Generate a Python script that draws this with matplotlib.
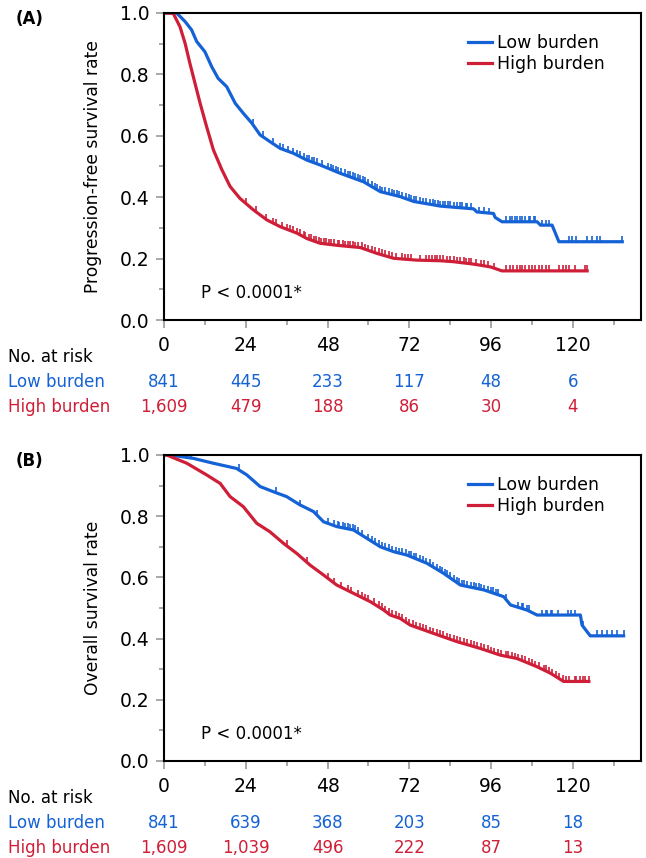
import numpy as np
import matplotlib.pyplot as plt
from matplotlib.ticker import MultipleLocator, FormatStrFormatter

# --- donnees ---
# PFS, points suivis le long des courbes (mois, taux)
pfs_low_t = [0, 3.7, 6.2, 8.1, 9.6, 12.0, 14.0, 15.9, 18.4, 20.9, 23.3, 25.8, 28.2, 31.1, 34.1,
             38.0, 41.9, 45.8, 51.7, 58.6, 63.5, 69.3, 73.3, 79.1, 81.1, 90.9, 91.8, 96.7, 97.2,
             99.2, 109.5, 110.5, 113.9, 114.9, 115.9, 134.5]
pfs_low_s = [1.0, 1.0, 0.972, 0.945, 0.907, 0.874, 0.825, 0.787, 0.760, 0.706, 0.673, 0.641, 0.603,
             0.581, 0.559, 0.543, 0.521, 0.505, 0.478, 0.450, 0.418, 0.402, 0.386, 0.375, 0.371,
             0.362, 0.352, 0.347, 0.334, 0.320, 0.320, 0.309, 0.309, 0.282, 0.255, 0.255]
pfs_high_t = [0, 2.7, 4.7, 6.2, 7.6, 9.1, 10.6, 12.5, 14.5, 17.0, 19.4, 22.3, 26.2, 30.2, 34.1,
              39.0, 42.0, 45.8, 51.0, 57.6, 62.5, 67.4, 74.2, 81.1, 84.9, 90.9, 95.8, 99.2, 124.2]
pfs_high_s = [1.0, 0.999, 0.955, 0.901, 0.836, 0.771, 0.706, 0.630, 0.554, 0.489, 0.435, 0.396,
              0.359, 0.326, 0.304, 0.283, 0.265, 0.250, 0.243, 0.236, 0.217, 0.201, 0.195, 0.193,
              0.190, 0.182, 0.173, 0.160, 0.160]
pfs_low_cens = [26, 29, 32, 34, 35, 36.5, 38, 39, 40, 41, 42, 42.5, 43.5, 44, 45, 46.5, 48, 49,
                49.5, 50.5, 51, 52, 53, 54, 54.5, 55.5, 56, 57, 57.5, 58.5, 59, 60, 61, 62, 62.5,
                63.5, 64, 65, 66, 67, 67.5, 68.5, 69, 70, 71, 72, 72.5, 73.5, 74, 75, 76, 77, 78,
                79, 79.5, 80.5, 81, 82, 82.5, 83.5, 84, 85, 86, 87, 87.5, 88.5, 89, 90, 92.5, 94,
                95.5, 100.5, 101.5, 102, 103, 103.5, 104.5, 105, 106, 107, 107.5, 108.5, 109,
                111, 112, 113, 118.8, 119.8, 120.8, 124.2, 125.7, 127.1, 128.1, 134.5]
pfs_high_cens = [24, 27, 30, 32, 33, 34.5, 36, 37, 38, 39, 40, 41, 41.5, 42.5, 43, 44, 44.5, 45.5,
                 46, 47, 47.5, 48.5, 49, 50, 51, 51.5, 52.5, 53, 54, 54.5, 55.5, 56, 57, 58, 59,
                 60, 61, 62, 63, 64, 65, 66, 67, 68, 70, 70.8, 71.6, 72.4, 75, 77, 77.8, 78.6,
                 79.4, 80.2, 81, 82, 83, 84, 85, 86, 87, 88, 88.5, 89.5, 90, 91.5, 93, 94, 95, 97,
                 100.5, 101.5, 102.5, 103.5, 104.5, 105, 106, 107, 108, 109, 110, 111, 112, 113,
                 116, 117, 118, 119, 120.5, 123.5, 124.2]

# OS
os_low_t = [0, 1.8, 8.6, 14.5, 21.3, 24.3, 28.2, 32.1, 36.0, 39.9, 43.9, 46.8, 50.7, 55.6, 59.5,
            63.5, 67.4, 71.3, 77.2, 82.1, 87.0, 93.9, 99.7, 101.7, 106.6, 109.5, 122.2, 122.7,
            125.1, 134.9]
os_low_s = [1.0, 1.0, 0.989, 0.973, 0.956, 0.935, 0.897, 0.880, 0.864, 0.837, 0.815, 0.782, 0.766,
            0.755, 0.728, 0.700, 0.684, 0.673, 0.646, 0.613, 0.575, 0.559, 0.537, 0.510, 0.493,
            0.477, 0.477, 0.444, 0.409, 0.409]
os_high_t = [0, 0.8, 6.7, 12.5, 16.5, 19.4, 23.3, 27.2, 31.1, 35.1, 39.0, 42.9, 46.8, 50.7, 55.6,
             60.5, 64.4, 66.4, 69.3, 72.3, 79.1, 86.0, 92.8, 98.7, 103.6, 109.5, 113.4, 117.3, 124.7]
os_high_s = [1.0, 1.0, 0.973, 0.935, 0.907, 0.864, 0.831, 0.777, 0.749, 0.711, 0.678, 0.640, 0.608,
             0.575, 0.548, 0.521, 0.494, 0.477, 0.466, 0.444, 0.417, 0.390, 0.368, 0.346, 0.335,
             0.308, 0.287, 0.260, 0.260]
os_low_cens = [3, 5, 6.5, 8, 22, 33, 40, 45, 48, 50, 51, 51.5, 52.5, 53, 54, 54.5, 55.5, 56, 57,
               58, 60, 61, 62, 63, 64, 65, 66, 67, 68, 69, 70, 71, 72, 72.5, 73.5, 74, 75, 76, 77,
               78, 79, 80, 81, 81.5, 82.5, 83, 84, 85, 86, 86.5, 87.5, 88, 89, 90, 91, 91.5,
               92.5, 93, 94, 95, 96, 96.5, 97.5, 98, 100.5, 104, 105, 105.5, 106.5, 107, 111,
               112, 112.5, 113.5, 114, 115.5, 118.5, 119.5, 120.5, 123, 127, 128.5, 130, 131.5,
               133, 134.9]
os_high_cens = [36, 42, 48, 50, 52, 54, 55, 57, 58, 59, 60, 61.5, 63, 64, 65, 66, 67, 68, 69, 70,
                71, 72, 73, 74, 75, 76, 77, 78, 79, 80, 81, 82, 83, 84, 85, 86, 87, 88, 89, 90,
                91, 92, 93, 94, 95, 96, 97, 98, 99, 100.5, 101, 102, 103, 104, 105, 106, 107, 108,
                109, 110, 111.5, 112, 113, 114, 115, 116, 117, 118, 119, 120.5, 121, 122, 123,
                123.5, 124.7]

# Nombre de patients a risque
risk_times = [0, 24, 48, 72, 96, 120]
pfs_risk_low = ['841', '445', '233', '117', '48', '6']
pfs_risk_high = ['1,609', '479', '188', '86', '30', '4']
os_risk_low = ['841', '639', '368', '203', '85', '18']
os_risk_high = ['1,609', '1,039', '496', '222', '87', '13']

BLEU = '#1462d6'
ROUGE = '#cf1f38'
GRIS = '#9a9a9a'
W, H = 646, 858

plt.rcParams['font.family'] = 'DejaVu Sans'

fig = plt.figure(figsize=(W / 100, H / 100), dpi=100)


def panneau(top_px, bot_px, lettre, ylabel, low_t, low_s, low_c, high_t, high_s, high_c,
            risk_low, risk_high):
    ax = fig.add_axes([164 / W, 1 - bot_px / H, 477 / W, (bot_px - top_px) / H])
    for t, s, c, col, lab in [(low_t, low_s, low_c, BLEU, 'Low burden'),
                              (high_t, high_s, high_c, ROUGE, 'High burden')]:
        ax.plot(t, s, color=col, lw=2.3, label=lab, solid_joinstyle='round')
        yc = np.interp(c, t, s)
        ax.vlines(c, yc, yc + 0.018, color=col, lw=1.2)

    ax.set_xlim(0, 140)
    ax.set_ylim(0, 1.0)
    ax.xaxis.set_major_locator(MultipleLocator(24))
    ax.xaxis.set_minor_locator(MultipleLocator(12))
    ax.yaxis.set_major_locator(MultipleLocator(0.2))
    ax.yaxis.set_minor_locator(MultipleLocator(0.1))
    ax.yaxis.set_major_formatter(FormatStrFormatter('%.1f'))
    ax.set_xticks(risk_times)
    ax.tick_params(which='major', length=5.5, width=1.2, color=GRIS, labelsize=13.5)
    ax.tick_params(which='minor', length=3.5, width=1.2, color=GRIS)
    ax.tick_params(axis='x', which='major', pad=6)
    ax.tick_params(axis='y', which='major', pad=5)
    for sp in ax.spines.values():
        sp.set_linewidth(1.5)

    ax.legend(loc='upper left', bbox_to_anchor=(0.637, 0.93), frameon=False, fontsize=12.5,
              borderaxespad=0, borderpad=0, handlelength=1.4, handletextpad=0.3,
              labelspacing=0.15)
    ax.text(11, 0.088, 'P < 0.0001*', fontsize=12, va='center', ha='left')

    # libelles hors axes
    fig.text(16 / W, 1 - (top_px + 6) / H, lettre, fontsize=12, fontweight='bold',
             ha='left', va='center')
    fig.text(93 / W, 1 - (top_px + bot_px) / 2 / H, ylabel, fontsize=12.3, rotation=90,
             ha='center', va='center')

    # tableau des effectifs a risque
    fig.text(8 / W, 1 - (bot_px + 37) / H, 'No. at risk', fontsize=12, ha='left', va='center')
    fig.text(8 / W, 1 - (bot_px + 62) / H, 'Low burden', fontsize=12, ha='left', va='center',
             color=BLEU)
    fig.text(8 / W, 1 - (bot_px + 87) / H, 'High burden', fontsize=12, ha='left', va='center',
             color=ROUGE)
    hauteur = bot_px - top_px
    for t, nl, nh in zip(risk_times, risk_low, risk_high):
        ax.text(t, -62 / hauteur, nl, fontsize=12, color=BLEU, ha='center', va='center',
                transform=ax.get_xaxis_transform(), clip_on=False)
        ax.text(t, -87 / hauteur, nh, fontsize=12, color=ROUGE, ha='center', va='center',
                transform=ax.get_xaxis_transform(), clip_on=False)
    return ax


panneau(13, 320, '(A)', 'Progression-free survival rate', pfs_low_t, pfs_low_s, pfs_low_cens,
        pfs_high_t, pfs_high_s, pfs_high_cens, pfs_risk_low, pfs_risk_high)
panneau(455, 761, '(B)', 'Overall survival rate', os_low_t, os_low_s, os_low_cens,
        os_high_t, os_high_s, os_high_cens, os_risk_low, os_risk_high)

fig.savefig('out.png', dpi=100)
